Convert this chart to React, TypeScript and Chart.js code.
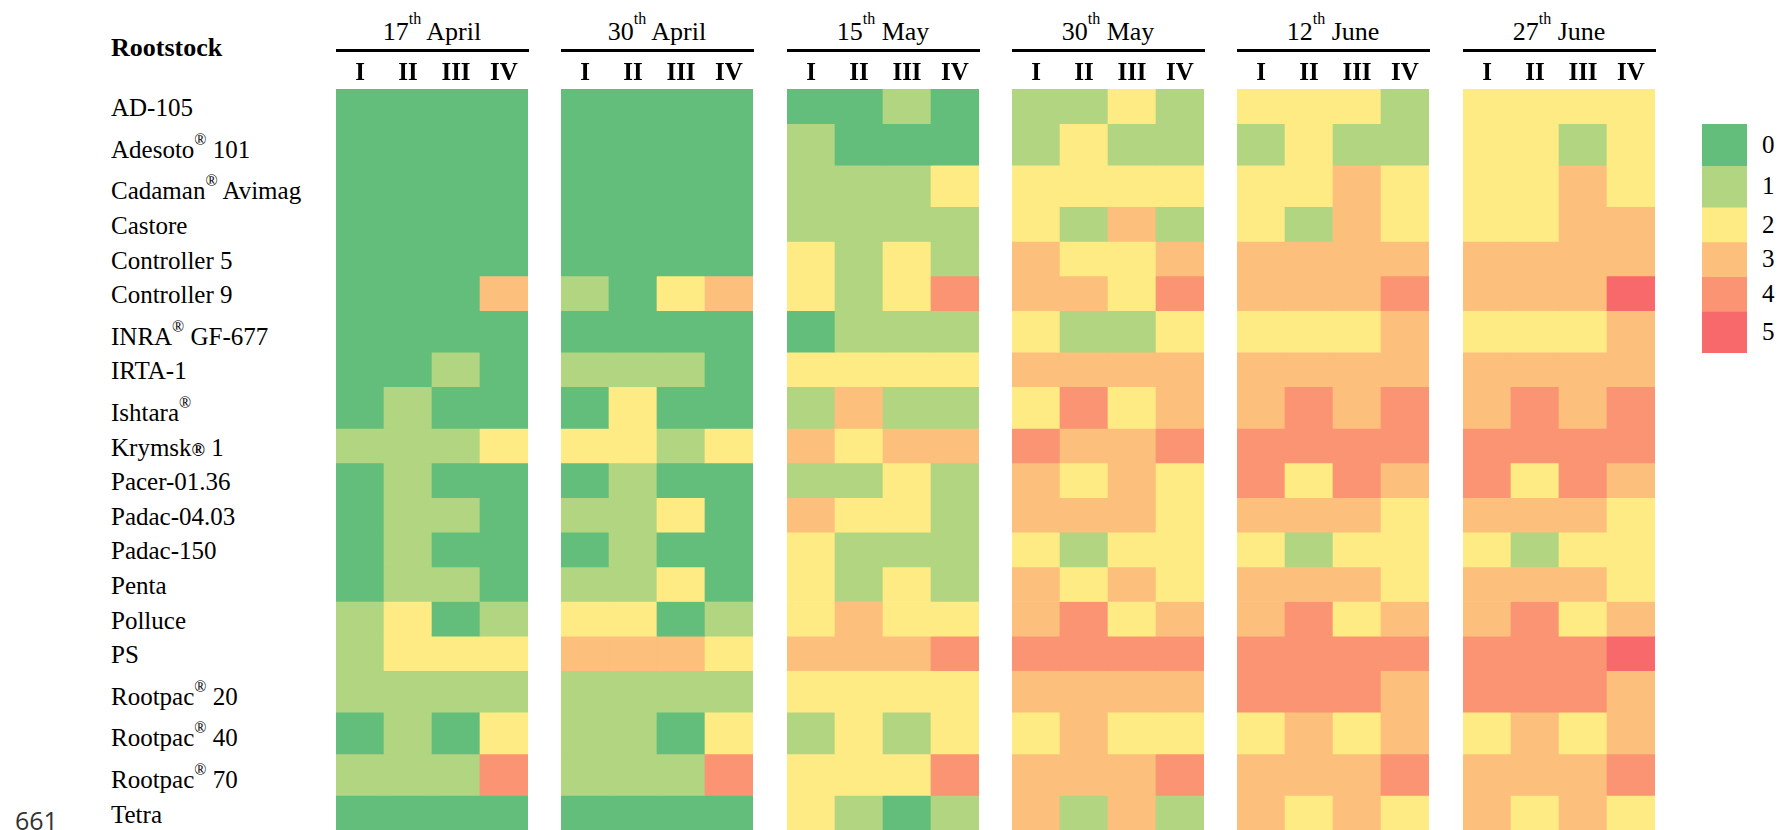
import React, { useEffect, useRef } from 'react';
import { Chart, registerables } from 'chart.js';

Chart.register(...registerables);

// ---------- data ----------
const rootstocks = [
  'AD-105', 'Adesoto^® 101', 'Cadaman^® Avimag', 'Castore', 'Controller 5', 'Controller 9',
  'INRA^® GF-677', 'IRTA-1', 'Ishtara^®', 'Krymsk® 1', 'Pacer-01.36', 'Padac-04.03',
  'Padac-150', 'Penta', 'Polluce', 'PS', 'Rootpac^® 20', 'Rootpac^® 40', 'Rootpac^® 70', 'Tetra',
];
const dateDays = ['17', '30', '15', '30', '12', '27'];
const dateMonths = ['April', 'April', 'May', 'May', 'June', 'June'];
const replicates = ['I', 'II', 'III', 'IV'];
const scoreLevels = [0, 1, 2, 3, 4, 5];
const scoreColors = ['#63BE7B', '#B1D580', '#FFEB84', '#FDBF7C', '#FA9473', '#F8696B'];

const scoresApr17 = [
  [0, 0, 0, 0], [0, 0, 0, 0], [0, 0, 0, 0], [0, 0, 0, 0], [0, 0, 0, 0], [0, 0, 0, 3],
  [0, 0, 0, 0], [0, 0, 1, 0], [0, 1, 0, 0], [1, 1, 1, 2], [0, 1, 0, 0], [0, 1, 1, 0],
  [0, 1, 0, 0], [0, 1, 1, 0], [1, 2, 0, 1], [1, 2, 2, 2], [1, 1, 1, 1], [0, 1, 0, 2],
  [1, 1, 1, 4], [0, 0, 0, 0],
];
const scoresApr30 = [
  [0, 0, 0, 0], [0, 0, 0, 0], [0, 0, 0, 0], [0, 0, 0, 0], [0, 0, 0, 0], [1, 0, 2, 3],
  [0, 0, 0, 0], [1, 1, 1, 0], [0, 2, 0, 0], [2, 2, 1, 2], [0, 1, 0, 0], [1, 1, 2, 0],
  [0, 1, 0, 0], [1, 1, 2, 0], [2, 2, 0, 1], [3, 3, 3, 2], [1, 1, 1, 1], [1, 1, 0, 2],
  [1, 1, 1, 4], [0, 0, 0, 0],
];
const scoresMay15 = [
  [0, 0, 1, 0], [1, 0, 0, 0], [1, 1, 1, 2], [1, 1, 1, 1], [2, 1, 2, 1], [2, 1, 2, 4],
  [0, 1, 1, 1], [2, 2, 2, 2], [1, 3, 1, 1], [3, 2, 3, 3], [1, 1, 2, 1], [3, 2, 2, 1],
  [2, 1, 1, 1], [2, 1, 2, 1], [2, 3, 2, 2], [3, 3, 3, 4], [2, 2, 2, 2], [1, 2, 1, 2],
  [2, 2, 2, 4], [2, 1, 0, 1],
];
const scoresMay30 = [
  [1, 1, 2, 1], [1, 2, 1, 1], [2, 2, 2, 2], [2, 1, 3, 1], [3, 2, 2, 3], [3, 3, 2, 4],
  [2, 1, 1, 2], [3, 3, 3, 3], [2, 4, 2, 3], [4, 3, 3, 4], [3, 2, 3, 2], [3, 3, 3, 2],
  [2, 1, 2, 2], [3, 2, 3, 2], [3, 4, 2, 3], [4, 4, 4, 4], [3, 3, 3, 3], [2, 3, 2, 2],
  [3, 3, 3, 4], [3, 1, 3, 1],
];
const scoresJun12 = [
  [2, 2, 2, 1], [1, 2, 1, 1], [2, 2, 3, 2], [2, 1, 3, 2], [3, 3, 3, 3], [3, 3, 3, 4],
  [2, 2, 2, 3], [3, 3, 3, 3], [3, 4, 3, 4], [4, 4, 4, 4], [4, 2, 4, 3], [3, 3, 3, 2],
  [2, 1, 2, 2], [3, 3, 3, 2], [3, 4, 2, 3], [4, 4, 4, 4], [4, 4, 4, 3], [2, 3, 2, 3],
  [3, 3, 3, 4], [3, 2, 3, 2],
];
const scoresJun27 = [
  [2, 2, 2, 2], [2, 2, 1, 2], [2, 2, 3, 2], [2, 2, 3, 3], [3, 3, 3, 3], [3, 3, 3, 5],
  [2, 2, 2, 3], [3, 3, 3, 3], [3, 4, 3, 4], [4, 4, 4, 4], [4, 2, 4, 3], [3, 3, 3, 2],
  [2, 1, 2, 2], [3, 3, 3, 2], [3, 4, 2, 3], [4, 4, 4, 5], [4, 4, 4, 3], [2, 3, 2, 3],
  [3, 3, 3, 4], [3, 2, 3, 2],
];
const scoresByDate = [scoresApr17, scoresApr30, scoresMay15, scoresMay30, scoresJun12, scoresJun27];

// ---------- layout ----------
const SERIF = '"Liberation Serif", "Times New Roman", Times, serif';
const GRID_TOP = 89;
const GRID_BOTTOM = 830;
const AXIS_H = 30;
const BLOCK_LEFTS = [336, 561, 787, 1012, 1237, 1463];
const BLOCK_W = 192;
const LEGEND_LEFT = 1702;
const LEGEND_W = 45;
const LABEL_LEFT = 111;

// rows whose label carries a raised ® are taller in the source table
const rowWeights = rootstocks.map((n) => (n.includes('^') ? 1.2 : 1));
const totalWeight = rowWeights.reduce((a, b) => a + b, 0);
const unitPx = (GRID_BOTTOM - GRID_TOP) / totalWeight;
const rowTops: number[] = [];
{
  let acc = 0;
  rowWeights.forEach((w) => {
    rowTops.push(GRID_TOP + acc * unitPx);
    acc += w;
  });
}
const rowH = (r: number) => rowWeights[r] * unitPx;

function HeatBlock({ scores, left }: { scores: number[][]; left: number }) {
  const ref = useRef<HTMLCanvasElement>(null);
  useEffect(() => {
    if (!ref.current) return;
    const chart = new Chart(ref.current, {
      type: 'bar',
      data: {
        labels: replicates,
        datasets: rootstocks.map((name, r) => ({
          label: name,
          data: replicates.map((rep, c) => ({ x: rep, y: rowWeights[r], score: scores[r][c] })) as any,
          backgroundColor: (ctx: any) => scoreColors[ctx.raw ? ctx.raw.score : 0],
          borderWidth: 0,
          barPercentage: 1,
          categoryPercentage: 1,
        })),
      },
      options: {
        responsive: false,
        animation: false,
        events: [],
        layout: { padding: 0 },
        plugins: { legend: { display: false }, tooltip: { enabled: false }, title: { display: false } },
        scales: {
          x: {
            type: 'category',
            position: 'top',
            stacked: true,
            offset: true,
            grid: { display: false, drawTicks: false },
            border: { display: false },
            ticks: {
              color: '#000',
              padding: 0,
              maxRotation: 0,
              autoSkip: false,
              font: { family: SERIF, size: 25, weight: 'bold' },
            },
          },
          y: { stacked: true, reverse: true, min: 0, max: totalWeight, display: false },
        },
      },
    });
    return () => chart.destroy();
  }, [scores]);
  return (
    <canvas
      ref={ref}
      width={BLOCK_W}
      height={GRID_BOTTOM - GRID_TOP + AXIS_H}
      style={{ position: 'absolute', left, top: GRID_TOP - AXIS_H }}
    />
  );
}

const legendRows = scoreLevels.map((_, i) => i + 1);

function LegendBlock() {
  const ref = useRef<HTMLCanvasElement>(null);
  const weights = legendRows.map((r) => rowWeights[r]);
  const sum = weights.reduce((a, b) => a + b, 0);
  const top = rowTops[legendRows[0]];
  const height = sum * unitPx;
  useEffect(() => {
    if (!ref.current) return;
    const chart = new Chart(ref.current, {
      type: 'bar',
      data: {
        labels: ['score'],
        datasets: scoreLevels.map((lvl, i) => ({
          label: String(lvl),
          data: [{ x: 'score', y: weights[i], score: lvl }] as any,
          backgroundColor: (ctx: any) => scoreColors[ctx.raw ? ctx.raw.score : 0],
          borderWidth: 0,
          barPercentage: 1,
          categoryPercentage: 1,
        })),
      },
      options: {
        responsive: false,
        animation: false,
        events: [],
        layout: { padding: 0 },
        plugins: { legend: { display: false }, tooltip: { enabled: false } },
        scales: {
          x: { stacked: true, display: false, offset: true },
          y: { stacked: true, reverse: true, min: 0, max: sum, display: false },
        },
      },
    });
    return () => chart.destroy();
  }, []);
  return (
    <canvas
      ref={ref}
      width={LEGEND_W}
      height={Math.round(height)}
      style={{ position: 'absolute', left: LEGEND_LEFT, top: Math.round(top) }}
    />
  );
}

function RowLabel({ name }: { name: string }) {
  const parts: React.ReactNode[] = [];
  const segs = name.split('^®');
  segs.forEach((s, i) => {
    if (i > 0)
      parts.push(
        <span key={'s' + i} style={{ fontSize: 16, position: 'relative', top: -13 }}>®</span>
      );
    const inl = s.split('®');
    inl.forEach((t, j) => {
      if (j > 0)
        parts.push(
          <span key={'i' + i + j} style={{ fontSize: 18, fontWeight: 'bold' }}>®</span>
        );
      parts.push(<React.Fragment key={'t' + i + j}>{t}</React.Fragment>);
    });
  });
  return <>{parts}</>;
}

export default function App() {
  return (
    <div
      style={{
        position: 'fixed', left: 0, top: 0, width: 1783, height: 830, overflow: 'hidden',
        background: '#fff', fontFamily: SERIF, color: '#000',
      }}
    >
      <div style={{ position: 'absolute', left: LABEL_LEFT, top: 35, fontSize: 26, lineHeight: '26px', fontWeight: 'bold', whiteSpace: 'nowrap' }}>
        Rootstock
      </div>
      {dateDays.map((d, k) => (
        <React.Fragment key={k}>
          <div
            style={{
              position: 'absolute', left: BLOCK_LEFTS[k], width: BLOCK_W, top: 19, textAlign: 'center',
              fontSize: 26, lineHeight: '26px', whiteSpace: 'nowrap',
            }}
          >
            {d}
            <span style={{ fontSize: 16, position: 'relative', top: -16 }}>th</span> {dateMonths[k]}
          </div>
          <div style={{ position: 'absolute', left: BLOCK_LEFTS[k], width: BLOCK_W + 1, top: 49, height: 3, background: '#000' }} />
          <HeatBlock scores={scoresByDate[k]} left={BLOCK_LEFTS[k]} />
        </React.Fragment>
      ))}
      {rootstocks.map((n, r) => (
        <div
          key={n}
          style={{
            position: 'absolute', left: LABEL_LEFT, top: rowTops[r] + rowH(r) - 7.5 - 20.94,
            fontSize: 25, lineHeight: '25px', whiteSpace: 'nowrap',
          }}
        >
          <RowLabel name={n} />
        </div>
      ))}
      <LegendBlock />
      {scoreLevels.map((lvl, i) => {
        const r = legendRows[i];
        return (
          <div
            key={lvl}
            style={{
              position: 'absolute', left: 1762, top: rowTops[r], height: rowH(r),
              display: 'flex', alignItems: 'center', fontSize: 25, lineHeight: '25px',
            }}
          >
            {lvl}
          </div>
        );
      })}
      <div style={{ position: 'absolute', left: 15, top: 808, fontFamily: '"Open Sans", sans-serif', fontSize: 25, lineHeight: '25px', color: '#333' }}>
        661
      </div>
    </div>
  );
}
